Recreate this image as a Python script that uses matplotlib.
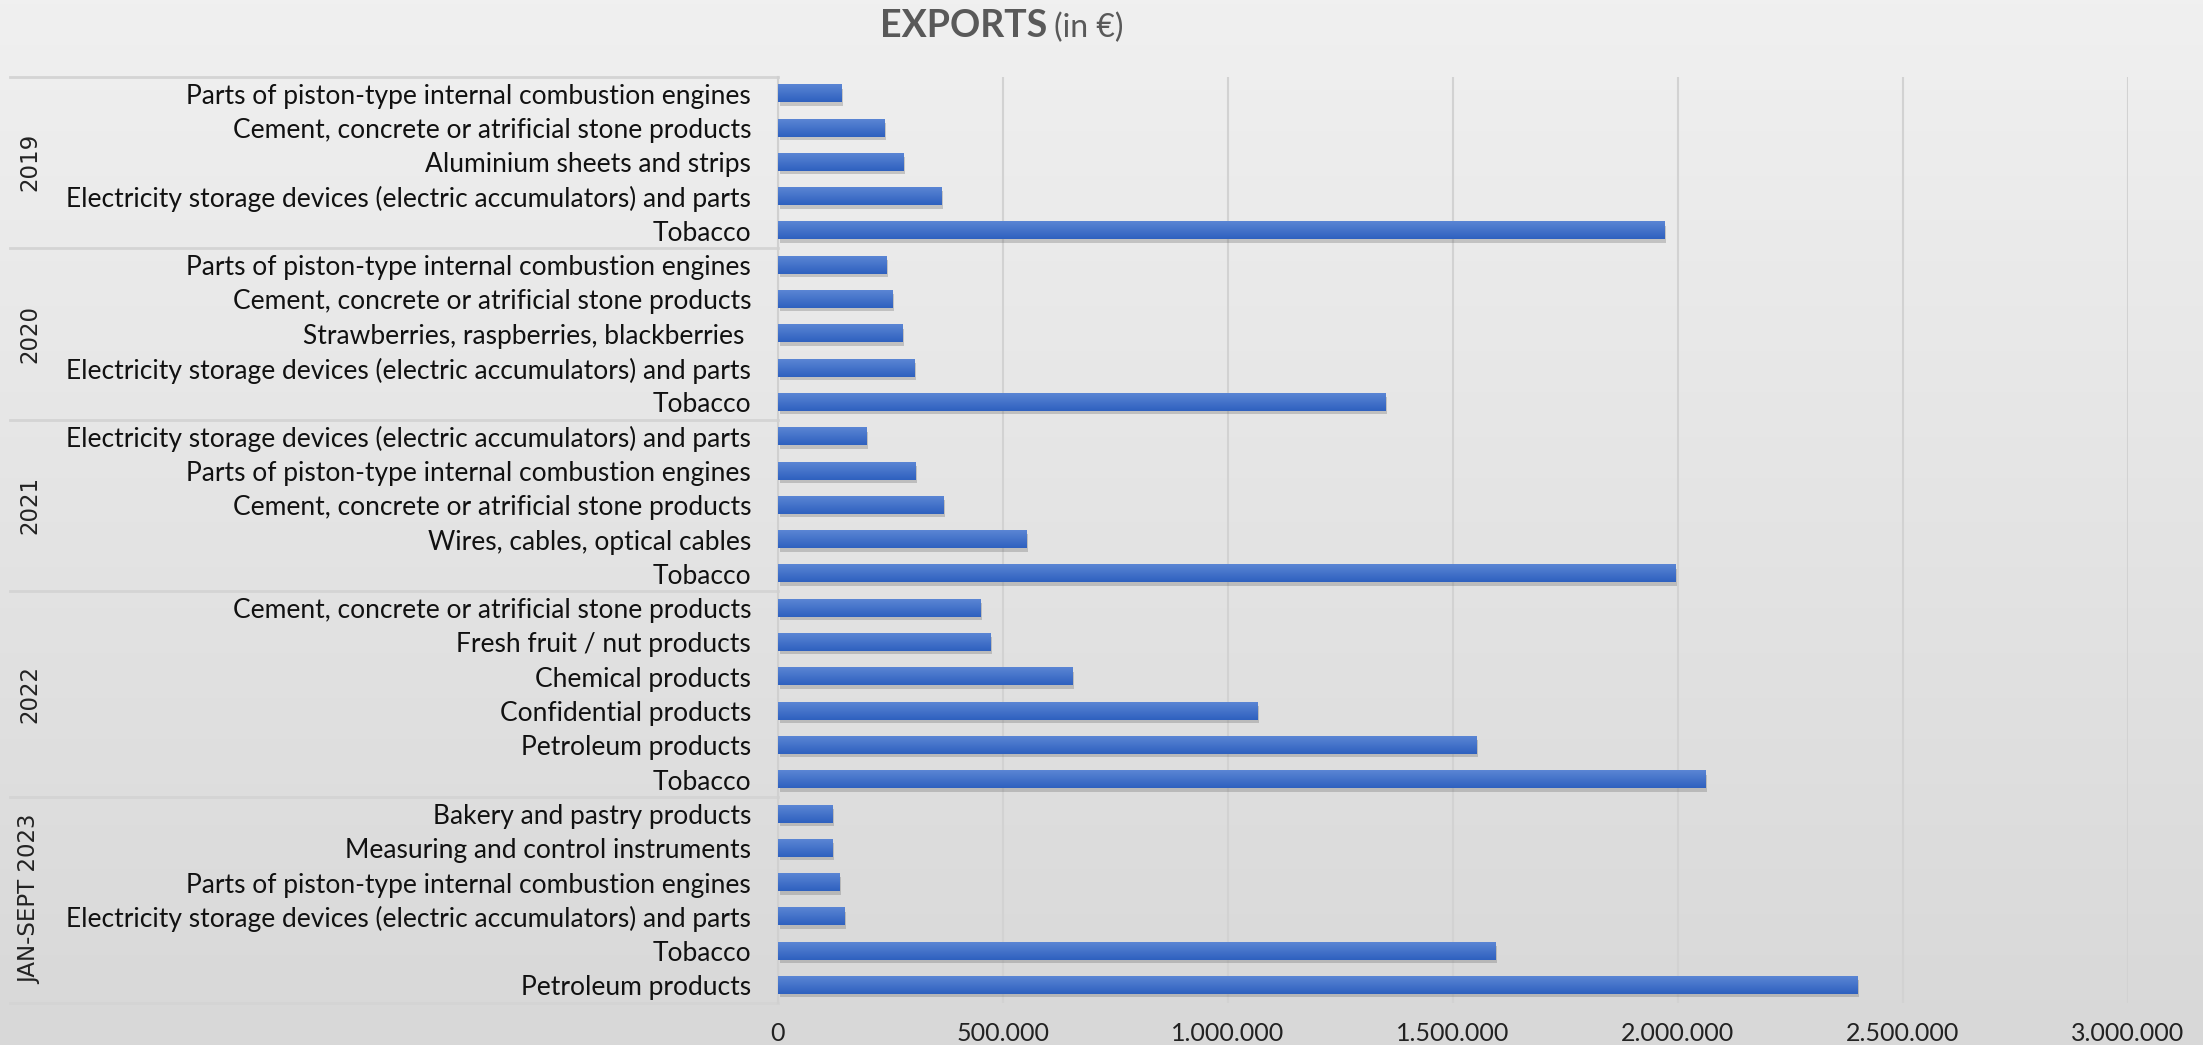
import numpy as np
import matplotlib
matplotlib.use("Agg")
import matplotlib.pyplot as plt
import matplotlib.patheffects as pe
from matplotlib.colors import LinearSegmentedColormap

# data, top to bottom as in the chart
groups = ["2019", "2020", "2021", "2022", "JAN-SEPT 2023"]
labels_2019 = ["Parts of piston-type internal combustion engines",
               "Cement, concrete or atrificial stone products",
               "Aluminium sheets and strips",
               "Electricity storage devices (electric accumulators) and parts",
               "Tobacco"]
values_2019 = [141000, 237000, 279000, 363000, 1970000]
labels_2020 = ["Parts of piston-type internal combustion engines",
               "Cement, concrete or atrificial stone products",
               "Strawberries, raspberries, blackberries ",
               "Electricity storage devices (electric accumulators) and parts",
               "Tobacco"]
values_2020 = [241000, 254000, 277000, 303000, 1350000]
labels_2021 = ["Electricity storage devices (electric accumulators) and parts",
               "Parts of piston-type internal combustion engines",
               "Cement, concrete or atrificial stone products",
               "Wires, cables, optical cables",
               "Tobacco"]
values_2021 = [197000, 306000, 368000, 552000, 1994000]
labels_2022 = ["Cement, concrete or atrificial stone products",
               "Fresh fruit / nut products",
               "Chemical products",
               "Confidential products",
               "Petroleum products",
               "Tobacco"]
values_2022 = [450000, 472000, 654000, 1066000, 1552000, 2061000]
labels_2023 = ["Bakery and pastry products",
               "Measuring and control instruments",
               "Parts of piston-type internal combustion engines",
               "Electricity storage devices (electric accumulators) and parts",
               "Tobacco",
               "Petroleum products"]
values_2023 = [121000, 121000, 137000, 148000, 1594000, 2397000]
xticks = [0, 500000, 1000000, 1500000, 2000000, 2500000, 3000000]
xtick_labels = ["0", "500.000", "1.000.000", "1.500.000", "2.000.000", "2.500.000", "3.000.000"]

all_labels = labels_2019 + labels_2020 + labels_2021 + labels_2022 + labels_2023
all_values = values_2019 + values_2020 + values_2021 + values_2022 + values_2023
sizes = [len(labels_2019), len(labels_2020), len(labels_2021), len(labels_2022), len(labels_2023)]

font = ["Lato", "DejaVu Sans"]

W, H = 2203, 1045
fig = plt.figure(figsize=(W / 100, H / 100), dpi=100)

# background gradient
bg = fig.add_axes([0, 0, 1, 1], zorder=-10)
grad = np.linspace(0, 1, 256).reshape(-1, 1)
bg_cmap = LinearSegmentedColormap.from_list("bg", ["#f0f0f0", "#d8d8d8"])
bg.imshow(grad, aspect="auto", cmap=bg_cmap, extent=[0, 1, 0, 1])
bg.axis("off")

left, right = 777.5 / W, 2128 / W
top, bottom = 1 - 76.5 / H, 1 - 1002.6 / H
ax = fig.add_axes([left, bottom, right - left, top - bottom])
ax.set_facecolor("none")

y = np.arange(len(all_values))
bars = ax.barh(y, all_values, height=0.5, color="#3d6cc8", zorder=3)
for b in bars:
    b.set_path_effects([pe.SimplePatchShadow(offset=(1.5, -2.5), shadow_rgbFace="#666666", alpha=0.3), pe.Normal()])

# vertical gradient on each bar
bar_cmap = LinearSegmentedColormap.from_list("bar", ["#5b86d4", "#2e60bf"])
for b in bars:
    x0, y0 = b.get_x(), b.get_y()
    ax.imshow(grad, aspect="auto", cmap=bar_cmap, zorder=4,
              extent=[x0, x0 + b.get_width(), y0 + b.get_height(), y0])

ax.set_xlim(0, 3000000)
ax.set_ylim(len(all_values) - 0.5, -0.5)
ax.set_xticks(xticks)
ax.set_xticklabels(xtick_labels, family=font, fontsize=18, color="#222222")
ax.set_yticks(y)
ax.set_yticklabels(all_labels, family=font, fontsize=19, color="#111111")
ax.tick_params(axis="y", length=0, pad=19)
ax.tick_params(axis="x", length=0, pad=14)
ax.xaxis.grid(True, color="#d2d2d2", lw=1.5, zorder=0)
ax.set_axisbelow(True)
for s in ["top", "right", "bottom"]:
    ax.spines[s].set_visible(False)
ax.spines["left"].set_color("#d0d0d0")
ax.spines["left"].set_linewidth(1.5)

# group separators and labels
trans = ax.get_yaxis_transform()
xl = (10 - 777.5) / (2128 - 777.5)
xg = (30 - 777.5) / (2128 - 777.5)
start = -0.5
ax.plot([xl, 0], [start, start], transform=trans, color="#d4d4d4", lw=2, clip_on=False)
for g, n in zip(groups, sizes):
    end = start + n
    ax.plot([xl, 0], [end, end], transform=trans, color="#d4d4d4", lw=2, clip_on=False)
    ax.text(xg, (start + end) / 2, g, transform=trans, rotation=90, ha="center", va="center",
            fontsize=16.5, color="#222222", family="DejaVu Sans")
    start = end

# title
t1 = fig.text(880 / W, 1 - 37 / H, "EXPORTS", fontsize=27, fontweight="bold",
              color="#595959", family=font, ha="left", va="baseline")
ax.annotate("(in €)", xy=(1, 0), xycoords=t1, xytext=(5, 0), textcoords="offset points",
            fontsize=23, color="#595959", family=font, ha="left", va="bottom",
            annotation_clip=False)

fig.savefig("out.png", dpi=100)
